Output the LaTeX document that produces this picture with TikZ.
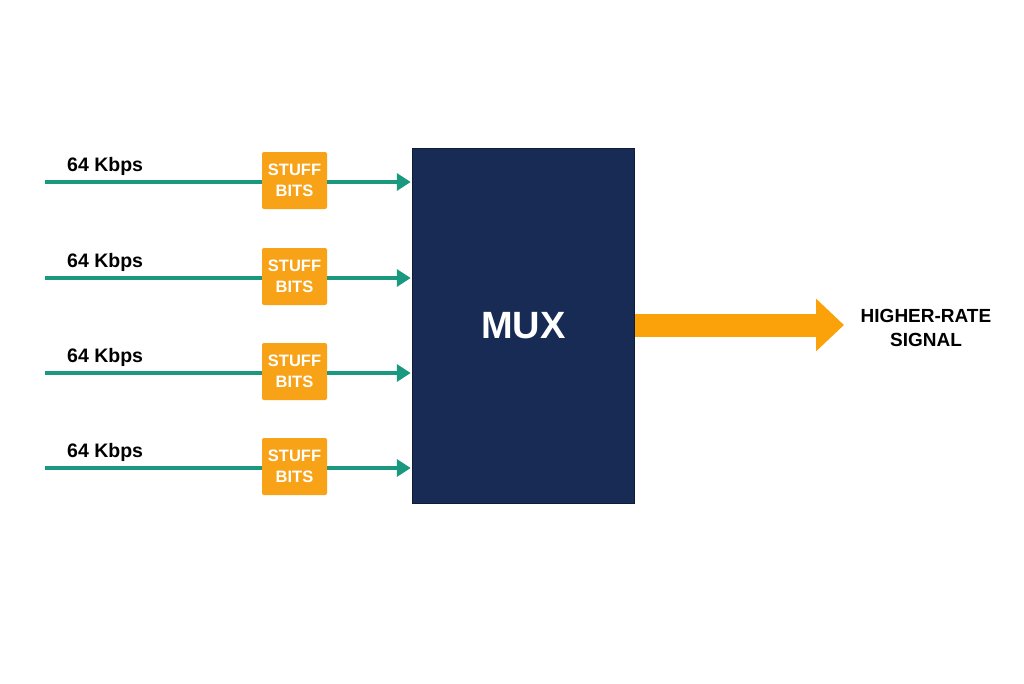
\documentclass[tikz,border=0pt]{standalone}
\usepackage{fontspec}
\setmainfont{Liberation Sans}
\usepackage{tikz}
\usetikzlibrary{positioning,calc,arrows.meta}

\definecolor{flowteal}{RGB}{27,153,128}
\definecolor{stufforange}{RGB}{248,162,24}
\definecolor{outorange}{RGB}{251,161,10}
\definecolor{muxnavy}{RGB}{23,43,84}
\definecolor{muxedge}{RGB}{14,28,58}

\begin{document}
\begin{tikzpicture}[
    x=1pt, y=-1pt,
    stuffbox/.style={fill=stufforange, rounded corners=2pt, minimum width=65pt, minimum height=57pt, inner sep=0pt, align=center, text=white, font=\fontsize{16.5}{20.5}\selectfont\bfseries},
    ratelabel/.style={anchor=west, inner sep=0pt, font=\fontsize{19.5}{22}\selectfont\bfseries},
    flow/.style={draw=flowteal, line width=4pt},
    flowarrow/.style={flow, -{Triangle[length=14pt, width=17pt]}, shorten >=1pt}
]
    % --- canvas ---
    \useasboundingbox[fill=white] (0,0) rectangle (1024,683);

    % --- Multiplexer ---
    \node[fill=muxnavy, draw=muxedge, line width=1.5pt, minimum width=222pt, minimum height=355pt, text=white, font=\fontsize{38}{40}\selectfont\bfseries] (mux) at (523.5,326) {MUX};

    % --- Inputs with stuffing ---
    \foreach \i/\y in {1/182,2/278,3/373,4/468} {
        \coordinate (in\i) at (45,\y);
        \node[ratelabel] (rate\i) at (67,\y-15.5) {64 Kbps};
        \node[stuffbox] (sb\i) at (294.5,\y-1.5) {STUFF\\BITS};
        \draw[flow] (in\i) -- (in\i -| sb\i.west);
        \draw[flowarrow] (in\i -| sb\i.east) -- (in\i -| mux.west);
    }

    % --- Output ---
    \node[align=center, inner sep=0pt, font=\fontsize{19}{24}\selectfont\bfseries] (sig) at (926,328) {HIGHER-RATE\\SIGNAL};
    \coordinate (outtip) at (844,325);
    \draw[outorange, line width=23pt, -{Triangle[length=28pt, width=51pt]}] (mux.east |- outtip) -- (outtip);
\end{tikzpicture}
\end{document}
